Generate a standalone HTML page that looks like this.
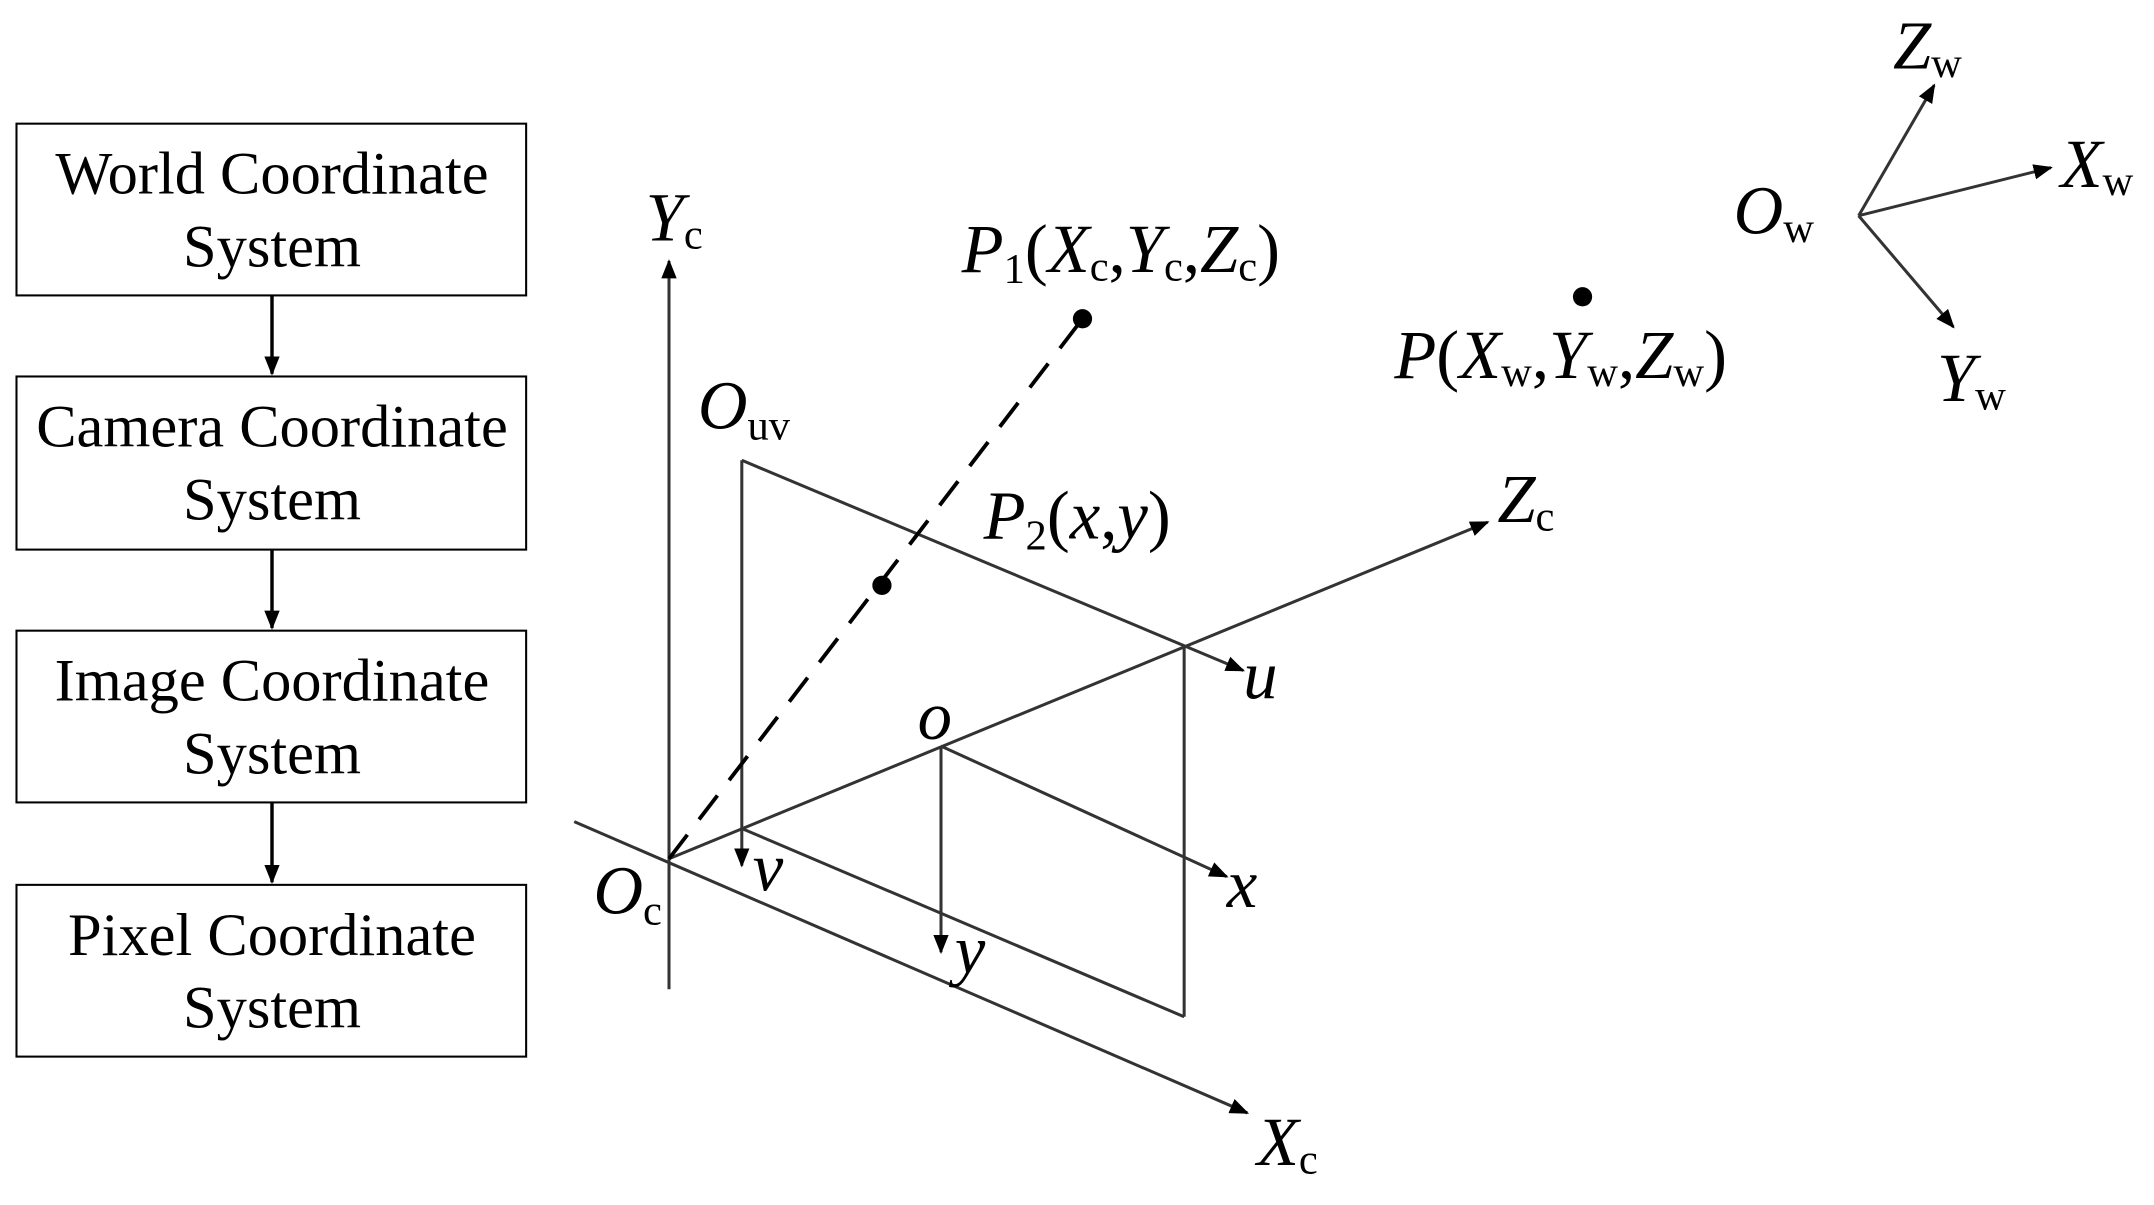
<!DOCTYPE html>
<html><head><meta charset="utf-8"><style>
html,body{margin:0;padding:0;background:#fff;}
svg{display:block}
text{font-family:"Liberation Serif",serif;fill:#000}
.b{font-size:44px;text-anchor:middle}
.i{font-style:italic;font-size:50px}
.s{font-size:31px;font-style:normal}
</style></head><body>
<svg width="2154" height="1205" viewBox="0 0 1568 877" preserveAspectRatio="none" xmlns="http://www.w3.org/2000/svg">
<defs>
<marker id="b" viewBox="0 0 10 10" refX="9" refY="5" markerWidth="14" markerHeight="14" markerUnits="userSpaceOnUse" orient="auto"><path d="M0,1L10,5L0,9z" fill="#000"/></marker></defs>
<g fill="none" stroke="#000" stroke-width="1.5">
<rect x="12" y="90" width="371" height="125"/>
<rect x="12" y="274" width="371" height="126"/>
<rect x="12" y="459" width="371" height="125"/>
<rect x="12" y="644" width="371" height="125"/>
</g>
<g stroke="#000" stroke-width="2.5">
<line x1="198" y1="215" x2="198" y2="272" marker-end="url(#b)"/>
<line x1="198" y1="400" x2="198" y2="457" marker-end="url(#b)"/>
<line x1="198" y1="584" x2="198" y2="642" marker-end="url(#b)"/>
</g>
<text class="b" x="198" y="141">World Coordinate</text><text class="b" x="198" y="194">System</text>
<text class="b" x="198" y="325">Camera Coordinate</text><text class="b" x="198" y="378">System</text>
<text class="b" x="198" y="510">Image Coordinate</text><text class="b" x="198" y="563">System</text>
<text class="b" x="198" y="695">Pixel Coordinate</text><text class="b" x="198" y="748">System</text>
<g stroke="#333" stroke-width="2.2" fill="none">
<line x1="487" y1="720" x2="487" y2="190" marker-end="url(#b)"/>
<line x1="418" y1="598" x2="908" y2="810" marker-end="url(#b)"/>
<line x1="487" y1="625" x2="1083" y2="380" marker-end="url(#b)"/>
<line x1="540" y1="335" x2="540" y2="630" marker-end="url(#b)"/>
<line x1="540" y1="335" x2="905" y2="488" marker-end="url(#b)"/>
<line x1="862" y1="470" x2="862" y2="740"/>
<line x1="540" y1="603" x2="862" y2="740"/>
<line x1="685" y1="543" x2="893" y2="638" marker-end="url(#b)"/>
<line x1="685" y1="543" x2="685" y2="693" marker-end="url(#b)"/>
<line x1="487" y1="625" x2="788" y2="232" stroke-dasharray="22,14" stroke="#000" stroke-width="2.8"/>
<line x1="1353" y1="157" x2="1408" y2="62" marker-end="url(#b)"/>
<line x1="1353" y1="157" x2="1493" y2="122" marker-end="url(#b)"/>
<line x1="1353" y1="157" x2="1422" y2="238" marker-end="url(#b)"/>
</g>
<circle cx="788" cy="232" r="7"/><circle cx="642" cy="426" r="7"/><circle cx="1152" cy="216" r="7"/>
<text class="i" x="470" y="175">Y<tspan class="s" dy="6">c</tspan></text>
<text class="i" x="915" y="848">X<tspan class="s" dy="6">c</tspan></text>
<text class="i" x="1090" y="380">Z<tspan class="s" dy="6">c</tspan></text>
<text class="i" x="432" y="665">O<tspan class="s" dy="8">c</tspan></text>
<text class="i" x="508" y="312">O<tspan class="s" dy="8">uv</tspan></text>
<text class="i" x="700" y="198">P<tspan class="s" dy="8">1</tspan><tspan dy="-8" font-style="normal">(</tspan>X<tspan class="s" dy="6">c</tspan><tspan dy="-6" font-style="normal">,</tspan>Y<tspan class="s" dy="6">c</tspan><tspan dy="-6" font-style="normal">,</tspan>Z<tspan class="s" dy="6">c</tspan><tspan dy="-6" font-style="normal">)</tspan></text>
<text class="i" x="716" y="392">P<tspan class="s" dy="8">2</tspan><tspan dy="-8" font-style="normal">(</tspan>x<tspan font-style="normal">,</tspan>y<tspan font-style="normal">)</tspan></text>
<text class="i" x="1015" y="275">P<tspan font-style="normal">(</tspan>X<tspan class="s" dy="6">w</tspan><tspan dy="-6" font-style="normal">,</tspan>Y<tspan class="s" dy="6">w</tspan><tspan dy="-6" font-style="normal">,</tspan>Z<tspan class="s" dy="6">w</tspan><tspan dy="-6" font-style="normal">)</tspan></text>
<text class="i" x="905" y="508">u</text>
<text class="i" x="893" y="660">x</text>
<text class="i" x="548" y="648">v</text>
<text class="i" x="695" y="708">y</text>
<text class="i" x="668" y="538" font-size="38">o</text>
<text class="i" x="1262" y="170">O<tspan class="s" dy="6">w</tspan></text>
<text class="i" x="1378" y="50">Z<tspan class="s" dy="6">w</tspan></text>
<text class="i" x="1500" y="136">X<tspan class="s" dy="6">w</tspan></text>
<text class="i" x="1410" y="292">Y<tspan class="s" dy="6">w</tspan></text>
</svg>
</body></html>
